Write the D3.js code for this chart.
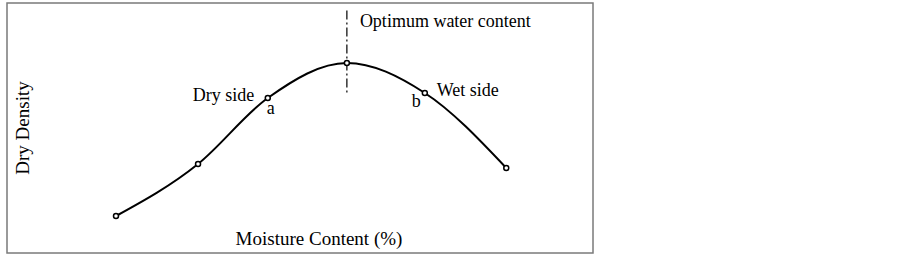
<!DOCTYPE html>
<html>
<head>
<meta charset="utf-8">
<script src="https://cdn.jsdelivr.net/npm/d3@7"></script>
<style>
  body { margin: 0; background: #fff; }
  text { font-family: "Liberation Serif", "Times New Roman", serif; fill: #000; }
</style>
</head>
<body>
<div id="chart"></div>
<script>
// data (arbitrary units, 0-100 on both axes)
const moisture = [18.6, 32.6, 44.5, 58.0, 71.3, 85.2];
const dryDensity = [14.8, 35.6, 62.0, 76.0, 64.0, 34.0];
const optimumMoisture = 58.0;
const pointLabels = [
  {i: 2, text: "Dry side", dx: -75, dy: 3},
  {i: 2, text: "a", dx: -1, dy: 16},
  {i: 4, text: "b", dx: -13, dy: 14},
  {i: 4, text: "Wet side", dx: 12, dy: 3}
];

const width = 902, height = 258;
const box = {left: 7, top: 3, right: 593, bottom: 253};

const svg = d3.select("#chart")
  .append("svg")
  .attr("width", width)
  .attr("height", height);

const x = d3.scaleLinear().domain([0, 100]).range([box.left, box.right]);
const y = d3.scaleLinear().domain([0, 100]).range([box.bottom, box.top]);

// frame
svg.append("rect")
  .attr("x", box.left)
  .attr("y", box.top)
  .attr("width", box.right - box.left)
  .attr("height", box.bottom - box.top)
  .attr("fill", "none")
  .attr("stroke", "#7a7a7a")
  .attr("stroke-width", 1.5);

// optimum water content marker
svg.append("line")
  .attr("x1", x(optimumMoisture))
  .attr("x2", x(optimumMoisture))
  .attr("y1", y(97))
  .attr("y2", y(64))
  .attr("stroke", "#000")
  .attr("stroke-width", 1.2)
  .attr("stroke-dasharray", "9,3,2,3");

svg.append("text")
  .attr("x", x(optimumMoisture) + 13)
  .attr("y", y(90.6))
  .attr("font-size", 18)
  .text("Optimum water content");

const pts = moisture.map((m, i) => [m, dryDensity[i]]);

// compaction curve
svg.append("path")
  .datum(pts)
  .attr("fill", "none")
  .attr("stroke", "#000")
  .attr("stroke-width", 2)
  .attr("d", d3.line()
    .curve(d3.curveMonotoneX)
    .x(d => x(d[0]))
    .y(d => y(d[1])));

svg.selectAll("circle.pt")
  .data(pts)
  .join("circle")
    .attr("class", "pt")
    .attr("cx", d => x(d[0]))
    .attr("cy", d => y(d[1]))
    .attr("r", 2.5)
    .attr("fill", "#fff")
    .attr("stroke", "#000")
    .attr("stroke-width", 1.5);

svg.selectAll("text.lbl")
  .data(pointLabels)
  .join("text")
    .attr("class", "lbl")
    .attr("x", d => x(moisture[d.i]) + d.dx)
    .attr("y", d => y(dryDensity[d.i]) + d.dy)
    .attr("font-size", 18)
    .text(d => d.text);

// axis titles
svg.append("text")
  .attr("x", 319)
  .attr("y", 245)
  .attr("text-anchor", "middle")
  .attr("font-size", 19)
  .text("Moisture Content (%)");

svg.append("text")
  .attr("transform", `translate(29, ${(box.top + box.bottom) / 2}) rotate(-90)`)
  .attr("text-anchor", "middle")
  .attr("font-size", 19)
  .text("Dry Density");
</script>
</body>
</html>
